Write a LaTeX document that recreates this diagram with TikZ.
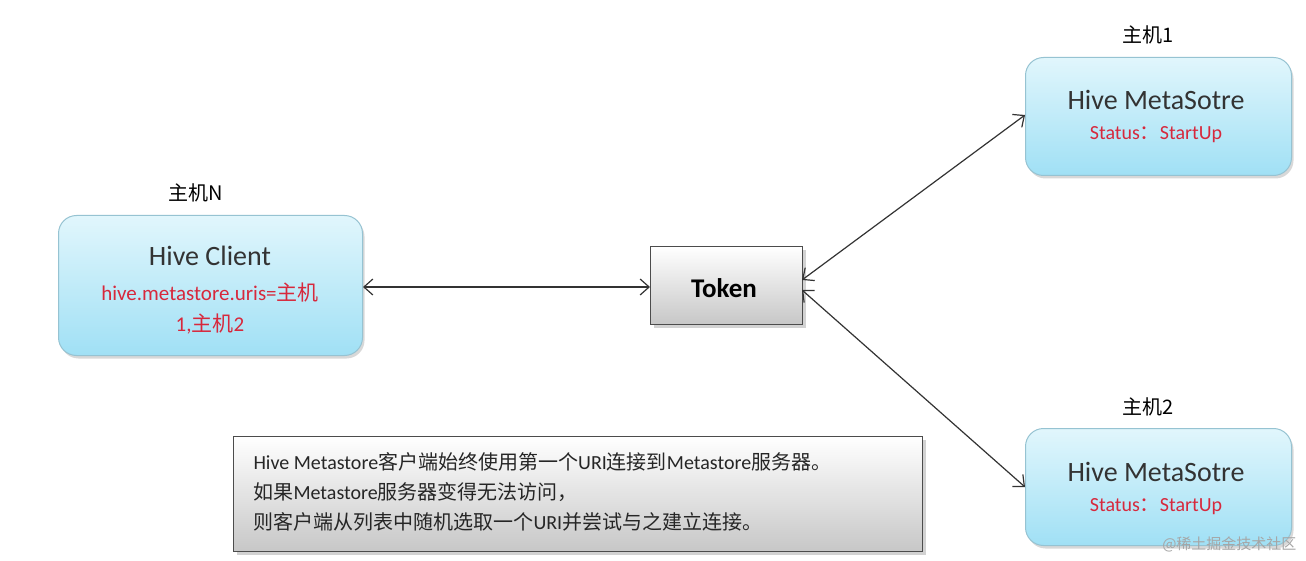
\documentclass[tikz,border=0pt]{standalone}
\usepackage{fontspec}
\setmainfont{Carlito}
\newfontfamily\cjk{Noto Sans CJK SC}
\usetikzlibrary{shadows,arrows.meta}
\definecolor{cyantop}{RGB}{225,246,252}
\definecolor{cyanbot}{RGB}{160,224,245}
\definecolor{redtxt}{RGB}{215,40,60}
\tikzset{
 hostbox/.style={draw=cyanbot!70!gray,line width=1pt,rounded corners=18pt,top color=cyantop,bottom color=cyanbot,
   drop shadow={shadow xshift=2pt,shadow yshift=-3pt,opacity=0.3},anchor=north west,inner sep=0pt},
 graybox/.style={draw=black!70,line width=1.2pt,top color=white,bottom color=black!22,
   drop shadow={shadow xshift=3pt,shadow yshift=-3pt,opacity=0.35},anchor=north west,inner sep=0pt},
 link/.style={{Straight Barb[length=9pt,width=16pt]}-{Straight Barb[length=9pt,width=16pt]},line width=1.2pt,black!80},
 lbl/.style={font=\cjk\fontsize{20}{22}\selectfont}
}
\begin{document}
\begin{tikzpicture}[x=1pt,y=-1pt]
\useasboundingbox[fill=white] (0,0) rectangle (1306,561);
\node[hostbox,minimum width=304pt,minimum height=140pt] (client) at (58,215) {};
\node[font=\fontsize{28}{30}\selectfont,text=black!80] at (210,256) {Hive Client};
\node[font=\fontsize{21}{24}\selectfont,text=redtxt] at (210,293) {hive.metastore.uris={\cjk 主机}};
\node[font=\fontsize{21}{24}\selectfont,text=redtxt] at (210,324) {1,{\cjk 主机}2};
\node[lbl] (ln) at (196,193) {主机N};
\node[graybox,minimum width=152pt,minimum height=78pt] (token) at (650,246) {};
\node[font=\bfseries\fontsize{27}{30}\selectfont] at (724,288) {Token};
\node[hostbox,minimum width=266pt,minimum height=118pt] (h1) at (1025,57) {};
\node[font=\fontsize{28}{30}\selectfont,text=black!80] at (1156,100) {Hive MetaSotre};
\node[font=\fontsize{20}{22}\selectfont,text=redtxt] at (1156,135) {Status{\cjk ：}StartUp};
\node[lbl] (l1) at (1148,35) {主机1};
\node[hostbox,minimum width=266pt,minimum height=117pt] (h2) at (1025,428) {};
\node[font=\fontsize{28}{30}\selectfont,text=black!80] at (1156,472) {Hive MetaSotre};
\node[font=\fontsize{20}{22}\selectfont,text=redtxt] at (1156,507) {Status{\cjk ：}StartUp};
\node[lbl] (l2) at (1148,407) {主机2};
\node[graybox,minimum width=689pt,minimum height=115pt] (note) at (233,436) {};
\node[anchor=north west,align=left,font=\fontsize{20}{30}\selectfont,text=black!85] (notetxt) at (250,449)
 {Hive Metastore{\cjk 客户端始终使用第一个}URI{\cjk 连接到}Metastore{\cjk 服务器。}\\
  {\cjk 如果}Metastore{\cjk 服务器变得无法访问，}\\
  {\cjk 则客户端从列表中随机选取一个}URI{\cjk 并尝试与之建立连接。}};
\node[font=\cjk\fontsize{15}{18}\selectfont,text=black!35,anchor=east] (wm) at (1300,544) {@稀土掘金技术社区};
\draw[link] (client.east|-0,287) -- (token.west|-0,287);
\draw[link] (802,280) -- (1025,115);
\draw[link] (802,290) -- (1025,487);
\end{tikzpicture}
\end{document}
